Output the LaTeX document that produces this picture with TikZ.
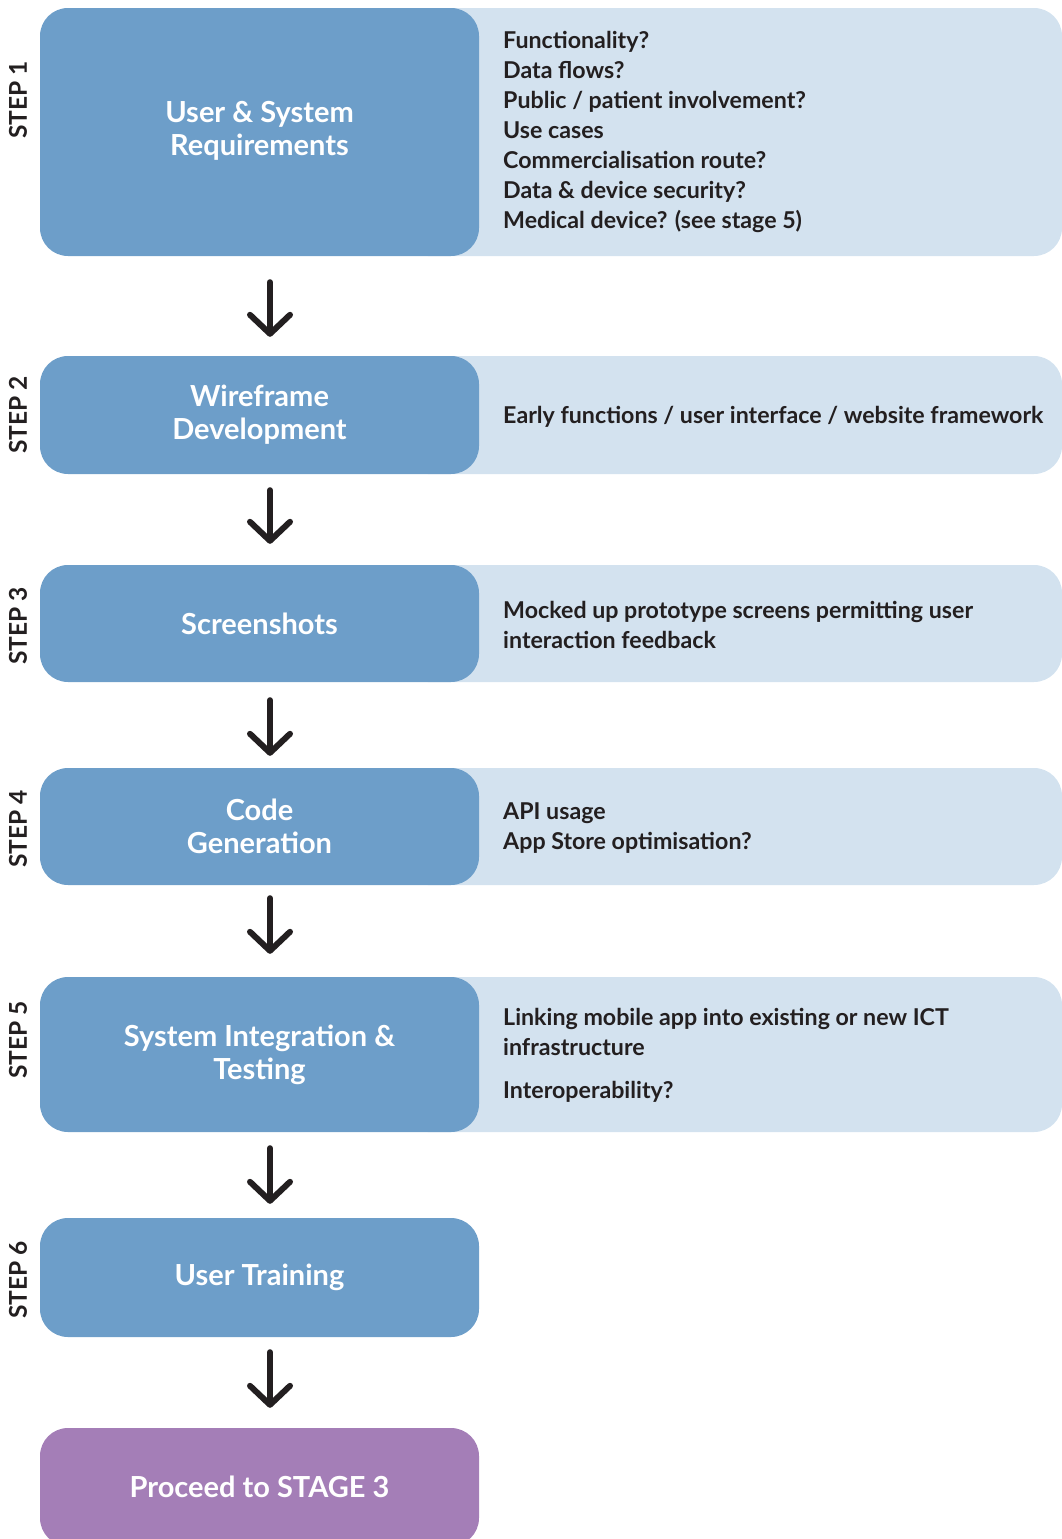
\documentclass[tikz,border=0pt]{standalone}
\usepackage{fontspec}
\setmainfont{Lato}
\usetikzlibrary{arrows.meta}
\definecolor{stepblue}{HTML}{6D9EC9}
\definecolor{notefill}{HTML}{D3E2EF}
\definecolor{stagepurple}{HTML}{A47EB7}
\definecolor{ink}{HTML}{231F20}
\begin{document}
\begin{tikzpicture}[x=1pt,y=-1pt,
  stepbox/.style={fill=stepblue, rounded corners=28pt, minimum width=439pt,
    inner sep=0pt, text=white, align=center,
    font=\fontsize{29}{33}\selectfont\bfseries},
  stagebox/.style={stepbox, fill=stagepurple},
  notepanel/.style={fill=notefill, rounded corners=28pt, minimum width=662pt, inner sep=0pt},
  notetext/.style={anchor=west, align=left, text=ink, inner sep=0pt,
    font=\fontsize{23.2}{30}\selectfont\bfseries},
  steplabel/.style={rotate=90, text=ink, inner sep=0pt,
    font=\fontsize{24.5}{24}\selectfont\bfseries},
  flow/.style={draw=ink, line width=6pt, line cap=round,
    -{Straight Barb[length=19pt,width=40pt,round]}}
]
\useasboundingbox (0,0) rectangle (1062,1539);

% light side panels, partly covered by the step boxes
\node[notepanel, minimum height=248pt] (p1) at (731,132) {};
\node[notepanel, minimum height=118pt] (p2) at (731,415) {};
\node[notepanel, minimum height=117pt] (p3) at (731,623.5) {};
\node[notepanel, minimum height=117pt] (p4) at (731,826.5) {};
\node[notepanel, minimum height=155pt] (p5) at (731,1054.5) {};

% step boxes
\node[stepbox, minimum height=248pt, text depth=8pt] (b1) at (259.5,132) {User \& System\\Requirements};
\node[stepbox, minimum height=118pt] (b2) at (259.5,415) {Wireframe\\Development};
\node[stepbox, minimum height=117pt] (b3) at (259.5,623.5) {Screenshots};
\node[stepbox, minimum height=117pt] (b4) at (259.5,826.5) {Code\\Generation};
\node[stepbox, minimum height=155pt] (b5) at (259.5,1054.5) {System Integration \&\\Testing};
\node[stepbox, minimum height=119pt] (b6) at (259.5,1277.5) {User Training};
\node[stagebox, minimum height=118pt] (b7) at (259.5,1487) {Proceed to STAGE 3};

% step labels
\node[steplabel] (s1) at (18,100) {STEP 1};
\node[steplabel] (s2) at (18,415) {STEP 2};
\node[steplabel] (s3) at (18,626) {STEP 3};
\node[steplabel] (s4) at (18,829) {STEP 4};
\node[steplabel] (s5) at (18,1040) {STEP 5};
\node[steplabel] (s6) at (18,1280) {STEP 6};

% panel notes
\node[notetext] (n1) at (503,132) {Functionality?\\Data flows?\\Public / patient involvement?\\Use cases\\Commercialisation route?\\Data \& device security?\\Medical device? (see stage 5)};
\node[notetext] (n2) at (503,417) {Early functions / user interface / website framework};
\node[notetext] (n3) at (503,625) {Mocked up prototype screens permitting user\\interaction feedback};
\node[notetext] (n4) at (503,828) {API usage\\App Store optimisation?};
\node[notetext] (n5) at (503,1055.5) {Linking mobile app into existing or new ICT\\infrastructure\\[13pt]Interoperability?};

% arrows between steps
\draw[flow, shorten <=26pt, shorten >=19pt] ([xshift=10.5pt]b1.south) -- ([xshift=10.5pt]b2.north);
\draw[flow, shorten <=16pt, shorten >=21pt] ([xshift=10.5pt]b2.south) -- ([xshift=10.5pt]b3.north);
\draw[flow, shorten <=18pt, shorten >=12pt] ([xshift=10.5pt]b3.south) -- ([xshift=10.5pt]b4.north);
\draw[flow, shorten <=13pt, shorten >=23pt] ([xshift=10.5pt]b4.south) -- ([xshift=10.5pt]b5.north);
\draw[flow, shorten <=16pt, shorten >=14pt] ([xshift=10.5pt]b5.south) -- ([xshift=10.5pt]b6.north);
\draw[flow, shorten <=15pt, shorten >=20pt] ([xshift=10.5pt]b6.south) -- ([xshift=10.5pt]b7.north);
\end{tikzpicture}
\end{document}
